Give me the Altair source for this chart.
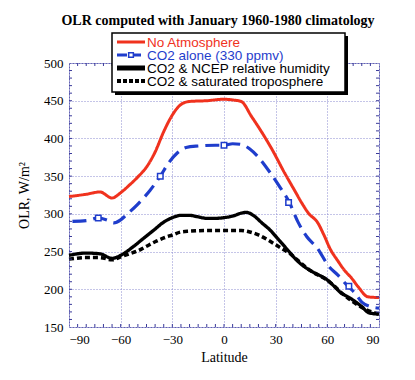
import altair as alt
import pandas as pd

series_names = ["No Atmosphere", "CO2 alone (330 ppmv)", "CO2 & NCEP relative humidity", "CO2 & saturated troposphere"]
series_colors = ["#f0321e", "#1f3dcc", "#000000", "#000000"]
series_dash = [[1, 0], [14, 7], [1, 0], [5, 3]]
series_width = [3, 3.5, 6, 4]
legend_dash = [[1, 0], [10, 4], [1, 0], [4, 2]]
legend_width = [3, 3, 5, 4]

red_lat = [-90, -80, -72, -65, -60, -55, -50, -45, -40, -35, -30, -25, -20, -10, 0, 5, 10, 16, 22, 28, 35, 41, 45, 49, 54.5, 58, 62, 66, 70, 74, 78, 83.6, 90]
red_val = [323, 326, 329, 321, 328, 338, 349, 362, 382, 409, 431, 445, 449, 450, 452, 451, 449, 429, 408, 385, 355, 331, 315, 301, 288, 272, 252, 238, 225, 215, 203, 190, 189]

blue_lat = [-88, -80, -73, -68, -64, -60, -57, -50, -43, -37, -32, -27, -22, -15, -5, 0, 5, 10, 15, 20, 27, 32, 38, 43, 48, 54, 61, 66, 72, 76, 80, 85, 90]
blue_val = [290, 291, 294.5, 292, 288, 292, 298, 313, 331, 350, 368, 381, 388, 390, 391, 391, 393, 392, 386, 375, 354, 337, 315, 289, 270, 255, 230, 219, 204, 195, 183, 177, 175]

ncep_lat = [-90, -80, -72, -65, -60, -53, -47, -41, -35, -30, -25, -20, -15, -10, -5, 0, 5, 10, 13, 17, 22, 27, 32, 37, 42, 46, 50, 55, 59, 64, 68, 72, 76, 80, 84, 90]
ncep_val = [245, 248, 247, 241, 245, 256, 267, 278, 289, 295, 298, 298, 296, 294, 294, 295, 297, 301, 302, 298, 288, 278, 265, 252, 239, 231, 225, 219, 214, 204, 195, 190, 184, 177, 169, 167]

sat_lat = [-90, -80, -72, -65, -60, -55, -50, -45, -40, -35, -30, -25, -20, -10, 0, 5, 10, 15, 20, 25, 30, 35, 38, 42, 50, 60, 70, 80, 90]
sat_val = [240, 242, 242, 239, 243, 247, 251, 257, 263, 268, 272, 276, 277, 278, 278, 278, 278, 276, 272, 266, 259, 252, 248, 240, 225, 212, 192, 176, 167]

marker_lat = [-73, -37, 0, 37.5, 72.5]
marker_val = [294.5, 350, 391, 315, 204]

x_ticks = [-90, -60, -30, 0, 30, 60, 90]
y_ticks = [150, 200, 250, 300, 350, 400, 450, 500]
x_minor = list(range(-85, 90, 5))
y_minor = list(range(160, 500, 10))

W, H = 310, 264
FRAME = "#3a3a9a"

rows = []
for name, lats, vals in zip(series_names, [red_lat, blue_lat, ncep_lat, sat_lat], [red_val, blue_val, ncep_val, sat_val]):
    for la, v in zip(lats, vals):
        rows.append({"series": name, "lat": la, "olr": v})
df = pd.DataFrame(rows)
mk = pd.DataFrame({"lat": marker_lat, "olr": marker_val})
xm = pd.DataFrame({"lat": x_minor})
ym = pd.DataFrame({"olr": y_minor})
one = pd.DataFrame({"k": [0]})

axis_style = dict(grid=True, gridColor="#8a8ad0", gridDash=[1, 2], gridWidth=1, gridOpacity=1,
                  domain=False, ticks=False, labelOverlap=False,
                  labelFont="Liberation Serif", labelFontSize=13, labelColor="black",
                  titleFont="Liberation Serif", titleFontSize=14, titleFontWeight="normal",
                  titleColor="black", labelPadding=6)

xs = alt.Scale(domain=[-90, 90], nice=False)
ys = alt.Scale(domain=[150, 500], nice=False, zero=False)
x_axis = alt.Axis(values=x_ticks, title="Latitude", titlePadding=4, **axis_style)
y_axis = alt.Axis(values=y_ticks, title="OLR, W/m²", titlePadding=12, **axis_style)
x_enc = alt.X("lat:Q", scale=xs, axis=x_axis)
y_enc = alt.Y("olr:Q", scale=ys, axis=y_axis)

color_enc = alt.Color("series:N", scale=alt.Scale(domain=series_names, range=series_colors), legend=None)
dash_enc = alt.StrokeDash("series:N", scale=alt.Scale(domain=series_names, range=series_dash), legend=None)
width_enc = alt.StrokeWidth("series:N", scale=alt.Scale(domain=series_names, range=series_width), legend=None)

def line_layer(name):
    return alt.Chart(df).transform_filter(alt.datum.series == name).mark_line(
        interpolate="monotone", strokeCap="butt").encode(
        x=x_enc, y=y_enc, color=color_enc, strokeDash=dash_enc, strokeWidth=width_enc)

markers = alt.Chart(mk).mark_point(shape="square", size=30, filled=False, fill="white",
                                   fillOpacity=1, color="#1f3dcc", strokeWidth=1.5, opacity=1).encode(
    x=x_enc, y=y_enc)

# minor ticks inside the frame
minor = [
    alt.Chart(xm).mark_rule(color=FRAME, strokeWidth=1).encode(x=x_enc, y=alt.value(H), y2=alt.value(H - 3)),
    alt.Chart(xm).mark_rule(color=FRAME, strokeWidth=1).encode(x=x_enc, y=alt.value(0), y2=alt.value(3)),
    alt.Chart(ym).mark_rule(color=FRAME, strokeWidth=1).encode(y=y_enc, x=alt.value(0), x2=alt.value(3)),
    alt.Chart(ym).mark_rule(color=FRAME, strokeWidth=1).encode(y=y_enc, x=alt.value(W), x2=alt.value(W - 3)),
]

# hand-drawn legend box (positions relative to plot area)
LX0, LX1, LY0, LY1 = 43, 276, -30, 29
legend_layers = [
    alt.Chart(one).mark_rect(color="black").encode(
        x=alt.value(LX0 + 3), x2=alt.value(LX1 + 3), y=alt.value(LY0 + 3), y2=alt.value(LY1 + 3)),
    alt.Chart(one).mark_rect(fill="white", stroke="black", strokeWidth=1.5).encode(
        x=alt.value(LX0), x2=alt.value(LX1), y=alt.value(LY0), y2=alt.value(LY1)),
]
row_y = [-21, -8, 5, 18]
for i, name in enumerate(series_names):
    legend_layers.append(
        alt.Chart(one).mark_rule(color=series_colors[i], strokeWidth=legend_width[i],
                                 strokeDash=legend_dash[i], strokeCap="butt").encode(
            x=alt.value(48), x2=alt.value(76), y=alt.value(row_y[i])))
    legend_layers.append(
        alt.Chart(one).mark_text(text=name, color=series_colors[i], font="Liberation Sans",
                                 fontSize=13.5, align="left", baseline="middle").encode(
            x=alt.value(78), y=alt.value(row_y[i] + 0.5)))
legend_layers.append(
    alt.Chart(one).mark_point(shape="square", size=22, filled=False, fill="white", fillOpacity=1,
                              color=series_colors[1], strokeWidth=1.5, opacity=1).encode(
        x=alt.value(62), y=alt.value(row_y[1])))

chart = alt.layer(
    line_layer(series_names[0]),
    line_layer(series_names[1]),
    line_layer(series_names[3]),
    line_layer(series_names[2]),
    markers,
    *minor,
    *legend_layers,
).properties(
    width=W, height=H,
    title=alt.TitleParams("OLR computed with January 1960-1980 climatology",
                          font="Liberation Serif", fontSize=14, fontWeight="bold",
                          offset=4, dx=-6, color="black"),
    autosize=alt.AutoSizeParams(type="none"),
    padding={"left": 61, "top": 55, "right": 28, "bottom": 45},
).configure_view(
    stroke=FRAME, strokeDash=[2, 1], strokeWidth=1
)

chart.save("out.html", embed_options={"renderer": "svg", "actions": False})
